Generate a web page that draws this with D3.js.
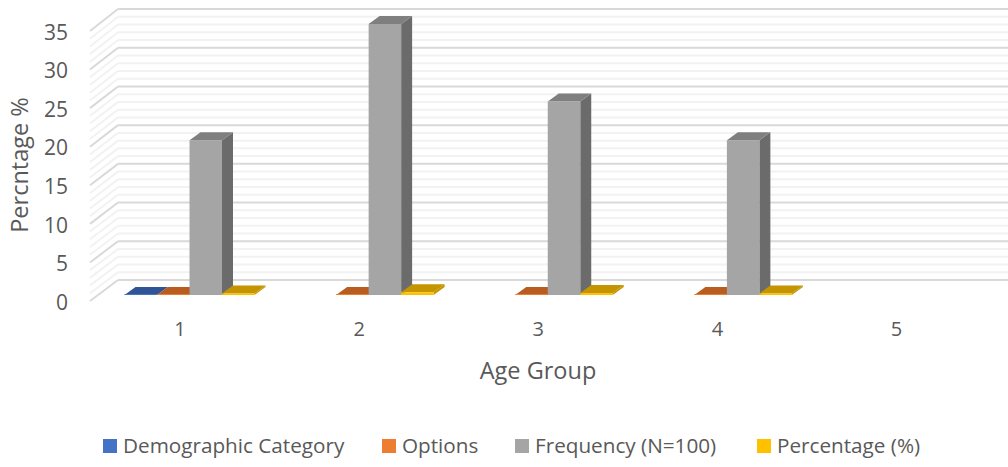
<!DOCTYPE html>
<html>
<head>
<meta charset="utf-8">
<script src="https://cdn.jsdelivr.net/npm/d3@7"></script>
<style>
  html, body { margin: 0; padding: 0; background: #fff; }
  svg { display: block; }
  text { font-family: "Open Sans", sans-serif; fill: #595959; }
</style>
</head>
<body>
<svg id="chart" width="1008" height="467"></svg>
<script>
// data; null = no bar drawn
var categories = [1, 2, 3, 4, 5];
var seriesNames = ["Demographic Category", "Options", "Frequency (N=100)", "Percentage (%)"];
var demographic = [0, null, null, null, null];
var options = [0, 0, 0, 0, null];
var frequency = [20, 35, 25, 20, null];
var percentage = [0.2, 0.35, 0.25, 0.2, null];
var seriesValues = [demographic, options, frequency, percentage];
var yTicks = [0, 5, 10, 15, 20, 25, 30, 35];
var minorTicks = d3.range(0, 36);

var colors = ["#4472c4", "#ed7d31", "#a5a5a5", "#ffc000"];
var sideColors = ["#264478", "#8f4b1d", "#6b6b6b", "#c49500"];
var topColors = ["#2f5597", "#b85c20", "#7f7f7f", "#c49500"];

var svg = d3.select("#chart");

// three y scales, one per depth plane of the fake 3d box
var yFront = d3.scaleLinear().domain([0, 35]).range([301, 31]);
var yWall = d3.scaleLinear().domain([0, 35]).range([280, 9]);
var yBar = d3.scaleLinear().domain([0, 35]).range([295, 24]);

var x = d3.scalePoint().domain(categories).range([189.5, 906]);
var xSeries = d3.scaleBand().domain(d3.range(seriesNames.length)).range([-65, 65]);

var wallLeft = 118, wallRight = 1008, floorLeft = 90;
var depthX = 11, depthY = -8;

/*
 * Gridlines on the back wall and the left side wall
 */
function drawGrid(ticks, color, width) {
    var g = svg.append("g").attr("fill", "none").attr("stroke", color).attr("stroke-width", width);
    g.selectAll("line.wall").data(ticks).enter().append("line")
	.attr("class", "wall")
	.attr("x1", wallLeft).attr("x2", wallRight)
	.attr("y1", function(d) { return yWall(d); })
	.attr("y2", function(d) { return yWall(d); });
    g.selectAll("line.side").data(ticks).enter().append("line")
	.attr("class", "side")
	.attr("x1", floorLeft).attr("x2", wallLeft)
	.attr("y1", function(d) { return yFront(d); })
	.attr("y2", function(d) { return yWall(d); });
}
drawGrid(minorTicks.filter(function(d) { return d % 5 != 0; }), "#f2f2f2", 2);
drawGrid(yTicks, "#d9d9d9", 2);

/*
 * Bars: front face, right side, top
 */
var bars = [];
seriesValues.forEach(function(values, s) {
    values.forEach(function(v, c) {
	if (v !== null) {
	    bars.push({ s: s, cat: categories[c], v: v });
	}
    });
});

var barW = xSeries.bandwidth();
var barG = svg.selectAll("g.bar").data(bars).enter().append("g").attr("class", "bar");

function left(d) { return x(d.cat) + xSeries(d.s); }

barG.append("path")
    .attr("fill", function(d) { return sideColors[d.s]; })
    .attr("d", function(d) {
	var r = left(d) + barW, t = yBar(d.v), b = yBar(0);
	return "M" + r + "," + b + "L" + r + "," + t + "L" + (r + depthX) + "," + (t + depthY) +
	    "L" + (r + depthX) + "," + (b + depthY) + "Z";
    });
barG.append("path")
    .attr("fill", function(d) { return topColors[d.s]; })
    .attr("d", function(d) {
	var l = left(d), t = yBar(d.v);
	return "M" + l + "," + t + "L" + (l + barW) + "," + t + "L" + (l + barW + depthX) + "," + (t + depthY) +
	    "L" + (l + depthX) + "," + (t + depthY) + "Z";
    });
barG.append("rect")
    .attr("fill", function(d) { return colors[d.s]; })
    .attr("x", left)
    .attr("y", function(d) { return yBar(d.v) - (d.v == 0 ? 1 : 0); })
    .attr("width", barW)
    .attr("height", function(d) { return d.v == 0 ? 1 : yBar(0) - yBar(d.v); });

/*
 * Axes, only the labels are visible
 */
var yAxis = svg.append("g")
    .attr("transform", "translate(68,1.5)")
    .call(d3.axisLeft(yFront).tickValues(yTicks).tickSize(0).tickPadding(0));
var xAxis = svg.append("g")
    .attr("transform", "translate(-10,322)")
    .call(d3.axisBottom(x).tickSize(0).tickPadding(0));
[yAxis, xAxis].forEach(function(a) {
    a.select(".domain").remove();
    a.selectAll("text").style("font-size", "21px").style("fill", "#595959");
    a.attr("font-family", null);
});
xAxis.selectAll("text").style("font-size", "20px");

svg.append("text")
    .attr("transform", "translate(28,165) rotate(-90)")
    .attr("text-anchor", "middle")
    .style("font-size", "23.5px")
    .text("Percntage %");
svg.append("text")
    .attr("x", 538).attr("y", 379)
    .attr("text-anchor", "middle")
    .style("font-size", "23.5px")
    .text("Age Group");

/*
 * Legend
 */
var legendX = [103, 382, 515, 757];
var legend = svg.selectAll("g.legend").data(seriesNames).enter().append("g")
    .attr("class", "legend")
    .attr("transform", function(d, i) { return "translate(" + legendX[i] + ",439)"; });
legend.append("rect")
    .attr("width", 14).attr("height", 14)
    .attr("fill", function(d, i) { return colors[i]; });
legend.append("text")
    .attr("x", 20).attr("y", 14)
    .style("font-size", "20.7px")
    .text(function(d) { return d; });
</script>
</body>
</html>
